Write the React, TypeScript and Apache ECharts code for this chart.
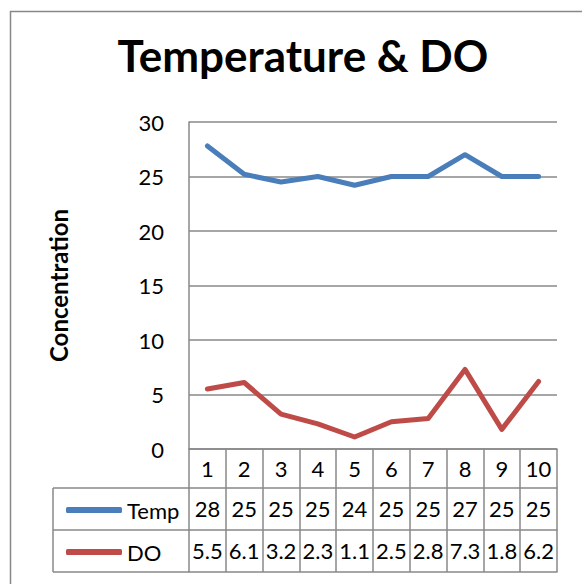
import React, { useEffect, useRef } from "react";
import * as echarts from "echarts";

const categories = ["1", "2", "3", "4", "5", "6", "7", "8", "9", "10"];
const tempValues = [27.8, 25.2, 24.5, 25.0, 24.2, 25.0, 25.0, 27.0, 25.0, 25.0];
const doValues = [5.5, 6.1, 3.2, 2.3, 1.1, 2.5, 2.8, 7.3, 1.8, 6.2];
const seriesNames = ["Temp", "DO"];
const yTicks = { min: 0, max: 30, interval: 5 };

const FONT = "Lato, 'Open Sans', sans-serif";
const GRID_COLOR = "#888888";
const TEMP_COLOR = "#4a7ebb";
const DO_COLOR = "#be4b48";

export default function App() {
  const ref = useRef<HTMLDivElement>(null);
  useEffect(() => {
    if (!ref.current) return;
    const chart = echarts.init(ref.current, null, { renderer: "svg" });
    const tableLine = { color: GRID_COLOR, width: 1.5 };
    const cellLabel = {
      fontSize: 22,
      lineHeight: 22,
      color: "#000",
      fontFamily: FONT,
    };
    chart.setOption({
      animation: false,
      backgroundColor: "#fff",
      title: {
        text: "Temperature & DO",
        left: 298,
        textAlign: "center",
        top: 28,
        textStyle: {
          fontSize: 44,
          fontWeight: "bold",
          color: "#000",
          fontFamily: FONT,
        },
      },
      legend: {
        orient: "vertical",
        left: 61,
        top: 494,
        itemGap: 20,
        icon: "roundRect",
        itemWidth: 56,
        itemHeight: 6,
        data: seriesNames,
        textStyle: {
          fontSize: 22,
          lineHeight: 22,
          color: "#000",
          fontFamily: FONT,
        },
      },
      grid: { left: 189, right: 25, top: 122, bottom: 135, containLabel: false },
      xAxis: [
        {
          type: "category",
          data: categories,
          position: "bottom",
          offset: 0,
          boundaryGap: true,
          axisLine: { show: true, onZero: false, lineStyle: tableLine },
          axisTick: { show: true, interval: 0, length: 39, lineStyle: tableLine },
          axisLabel: { interval: 0, margin: 8, ...cellLabel },
        },
        {
          type: "category",
          data: categories,
          position: "bottom",
          offset: 39,
          boundaryGap: true,
          axisLine: { show: true, onZero: false, lineStyle: tableLine },
          axisTick: { show: true, interval: 0, length: 42, lineStyle: tableLine },
          axisLabel: {
            interval: 0,
            margin: 9,
            ...cellLabel,
            formatter: (_v: string, i: number) => tempValues[i].toFixed(0),
          },
        },
        {
          type: "category",
          data: categories,
          position: "bottom",
          offset: 81,
          boundaryGap: true,
          axisLine: { show: true, onZero: false, lineStyle: tableLine },
          axisTick: { show: true, interval: 0, length: 42, lineStyle: tableLine },
          axisLabel: {
            interval: 0,
            margin: 9,
            ...cellLabel,
            formatter: (_v: string, i: number) => doValues[i].toFixed(1),
          },
        },
        {
          type: "category",
          data: categories,
          position: "bottom",
          offset: 123,
          boundaryGap: true,
          axisLine: { show: true, onZero: false, lineStyle: tableLine },
          axisTick: { show: false },
          axisLabel: { show: false },
        },
      ],
      yAxis: {
        type: "value",
        min: yTicks.min,
        max: yTicks.max,
        interval: yTicks.interval,
        name: "Concentration",
        nameLocation: "middle",
        nameRotate: 90,
        nameGap: 119,
        nameTextStyle: {
          fontSize: 24,
          fontWeight: "bold",
          color: "#000",
          fontFamily: FONT,
        },
        axisLine: { show: true, lineStyle: tableLine },
        axisTick: { show: false },
        splitLine: { show: true, lineStyle: tableLine },
        axisLabel: { fontSize: 22, color: "#000", fontFamily: FONT, margin: 25 },
      },
      series: [
        {
          name: seriesNames[0],
          type: "line",
          data: tempValues,
          color: TEMP_COLOR,
          showSymbol: false,
          symbol: "none",
          lineStyle: { width: 5, color: TEMP_COLOR, cap: "round", join: "round" },
        },
        {
          name: seriesNames[1],
          type: "line",
          data: doValues,
          color: DO_COLOR,
          showSymbol: false,
          symbol: "none",
          lineStyle: { width: 5, color: DO_COLOR, cap: "round", join: "round" },
        },
      ],
      graphic: [
        {
          type: "rect",
          shape: { x: 10.5, y: 11.5, width: 700, height: 700 },
          style: { fill: "none", stroke: GRID_COLOR, lineWidth: 1.5 },
          silent: true,
        },
        {
          type: "line",
          shape: { x1: 53, y1: 488, x2: 189, y2: 488 },
          style: { stroke: GRID_COLOR, lineWidth: 1.5 },
        },
        {
          type: "line",
          shape: { x1: 53, y1: 530, x2: 189, y2: 530 },
          style: { stroke: GRID_COLOR, lineWidth: 1.5 },
        },
        {
          type: "line",
          shape: { x1: 53, y1: 572, x2: 189, y2: 572 },
          style: { stroke: GRID_COLOR, lineWidth: 1.5 },
        },
        {
          type: "line",
          shape: { x1: 53, y1: 488, x2: 53, y2: 572 },
          style: { stroke: GRID_COLOR, lineWidth: 1.5 },
        },
      ],
    });
    return () => chart.dispose();
  }, []);
  return (
    <div
      ref={ref}
      style={{ position: "fixed", left: 0, top: 0, width: 582, height: 584 }}
    />
  );
}
